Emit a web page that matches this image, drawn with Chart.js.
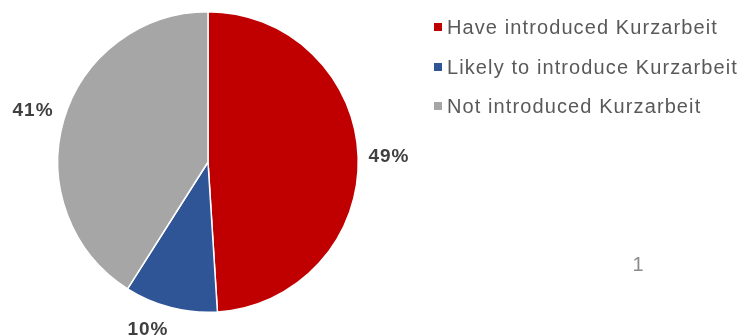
<!DOCTYPE html>
<html>
<head>
<meta charset="utf-8">
<script src="https://cdn.jsdelivr.net/npm/chart.js@4"></script>
<style>
  html, body { margin: 0; padding: 0; background: #fff; }
  #wrap { position: relative; width: 745px; height: 336px; }
</style>
</head>
<body>
<div id="wrap"><canvas id="kurzarbeit-chart"></canvas></div>
<script>
const categories = ['Have introduced Kurzarbeit', 'Likely to introduce Kurzarbeit', 'Not introduced Kurzarbeit']
const shares = [49, 10, 41]
const sliceColors = ['#C00000', '#2F5597', '#A6A6A6']
const pageNumber = '1'

const FONT = '"Liberation Sans", Arial, sans-serif'
// small manual shift for the labels, like the reference's hand-placed ones
const labelShift = [[0, 0], [-17, 0], [0, 0]]

// percentage labels just outside each slice
const outsideLabels = {
    id: 'outsideLabels',
    afterDatasetsDraw(chart) {
        const ctx = chart.ctx
        const meta = chart.getDatasetMeta(0)
        ctx.save()
        ctx.font = 'bold 19px ' + FONT
        ctx.letterSpacing = '1px'
        ctx.fillStyle = '#404040'
        ctx.textAlign = 'center'
        ctx.textBaseline = 'middle'
        meta.data.forEach((arc, i) => {
            const mid = (arc.startAngle + arc.endAngle) / 2
            const text = shares[i] + '%'
            const hw = ctx.measureText(text).width / 2
            const hh = 8
            const c = Math.cos(mid), s = Math.sin(mid)
            const d = arc.outerRadius + 10 + Math.abs(c) * hw + Math.abs(s) * hh
            ctx.fillText(text, arc.x + c * d + labelShift[i][0], arc.y + s * d + labelShift[i][1])
        })
        ctx.restore()
    }
}

// legend on the right, plus the stray page number
const sideLegend = {
    id: 'sideLegend',
    afterDraw(chart) {
        const ctx = chart.ctx
        ctx.save()
        ctx.font = '20px ' + FONT
        ctx.letterSpacing = '1.1px'
        ctx.textBaseline = 'middle'
        const rows = [27, 67, 106]
        categories.forEach((label, i) => {
            ctx.fillStyle = sliceColors[i]
            ctx.fillRect(434, rows[i] - 4, 8, 8)
            ctx.fillStyle = '#595959'
            ctx.fillText(label, 447, rows[i] + 1)
        })
        ctx.letterSpacing = '0px'
        ctx.fillStyle = '#8c8c8c'
        ctx.textAlign = 'center'
        ctx.fillText(pageNumber, 638, 265)
        ctx.restore()
    }
}

new Chart('kurzarbeit-chart', {
    type: 'pie',
    data: {
        labels: categories,
        datasets: [{
            data: shares,
            backgroundColor: sliceColors,
            borderColor: '#ffffff',
            borderWidth: 1.5
        }]
    },
    options: {
        responsive: true,
        maintainAspectRatio: false,
        animation: false,
        layout: { padding: { left: 57, right: 386, top: 11, bottom: 23 } },
        plugins: {
            legend: { display: false },
            tooltip: { enabled: false }
        }
    },
    plugins: [outsideLabels, sideLegend]
})
</script>
</body>
</html>
